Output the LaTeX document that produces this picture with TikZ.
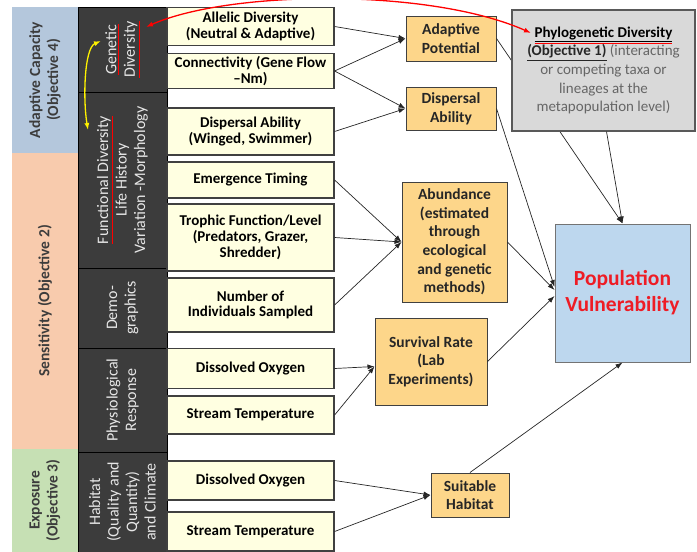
\documentclass[tikz,border=0pt]{standalone}
\usepackage{fontspec}
\setmainfont{Carlito}
\usetikzlibrary{arrows.meta}
\definecolor{capblue}{HTML}{B4C7DC}
\definecolor{senspeach}{HTML}{F8CBAD}
\definecolor{expgreen}{HTML}{C6E0B4}
\definecolor{darkcol}{HTML}{3C3C3C}
\definecolor{lighttext}{HTML}{E6E6E6}
\definecolor{lightyel}{HTML}{FFFFE1}
\definecolor{boxgray}{HTML}{404040}
\definecolor{orangebox}{HTML}{FDD68A}
\definecolor{phylogray}{HTML}{D9D9D9}
\definecolor{vulnblue}{HTML}{BDD7EE}
\definecolor{vulnred}{HTML}{EE1C25}
\newcommand{\redul}[2][black]{{\color{red}\underline{\color{#1}#2}}}

\begin{document}
\begin{tikzpicture}
      [x = 1pt, y = -1pt, line width = .7pt,
       colbox/.style = {rotate = 90, minimum height = 66pt, inner sep = 0pt,
         align = center, text = darkcol, font = \bfseries\fontsize{15.5}{18}\selectfont},
       darkbox/.style = {rotate = 90, draw = black, fill = darkcol, line width = 1pt,
         minimum height = 89pt, inner sep = 0pt, align = center, text = lighttext,
         font = \fontsize{16}{18.5}\selectfont},
       ybox/.style = {draw = boxgray, fill = lightyel, line width = 1.2pt,
         minimum width = 167pt, inner sep = 0pt, align = center,
         font = \bfseries\fontsize{15}{15.8}\selectfont},
       obox/.style = {draw = boxgray, fill = orangebox, line width = 1pt,
         inner sep = 0pt, align = center, text = black!85,
         font = \bfseries\fontsize{15.5}{18.6}\selectfont},
       link/.style = {-{Latex[length = 7pt, width = 5pt]}, black!85}]
      \useasboundingbox (0,0) rectangle (697,552);
      % objectives column
      \node[colbox, fill = capblue, minimum width = 146pt] (adapt) at (45,80)
        {Adaptive Capacity\\(Objective 4)};
      \node[colbox, fill = senspeach, minimum width = 296pt] (sens) at (45,301)
        {Sensitivity (Objective 2)};
      \node[colbox, fill = expgreen, minimum width = 103pt] (expo) at (45,500.5)
        {Exposure\\(Objective 3)};
      % attribute column
      \node[darkbox, minimum width = 85pt] (genetic) at (122.5,49.5)
        {\redul[lighttext]{Genetic}\\\redul[lighttext]{Diversity}};
      \node[darkbox, minimum width = 176pt] (functional) at (122.5,180)
        {\redul[lighttext]{Functional Diversity}\\Life History\\Variation -Morphology};
      \node[darkbox, minimum width = 80pt] (demo) at (122.5,308)
        {Demo-\\graphics};
      \node[darkbox, minimum width = 104pt] (physio) at (122.5,400)
        {Physiological\\Response};
      \node[darkbox, minimum width = 100pt] (habitat) at (122.5,502)
        {Habitat\\(Quality and\\Quantity)\\and Climate};
      % measured variables
      \foreach \n/\y/\h/\t in {allelic/26.5/38/{Allelic Diversity\\(Neutral \& Adaptive)},
          conn/71/35/{Connectivity (Gene Flow\\--Nm)},
          disp/131.5/47/{Dispersal Ability\\(Winged, Swimmer)},
          emerg/180/36/{Emergence Timing},
          trophic/237.5/67/{Trophic Function/Level\\(Predators, Grazer,\\Shredder)},
          number/305/54/{Number of\\Individuals Sampled},
          oxyA/368.5/40/{Dissolved Oxygen},
          tempA/415/38/{Stream Temperature},
          oxyB/480.5/39/{Dissolved Oxygen},
          tempB/531.5/39/{Stream Temperature}}
        \node[ybox, minimum height = \h pt] (\n) at (250.5,\y) {\t};
      % derived quantities
      \node[obox, minimum width = 90pt, minimum height = 45pt] (potential) at (451,38.5)
        {Adaptive\\Potential};
      \node[obox, minimum width = 90pt, minimum height = 43pt] (dispab) at (451,108.5)
        {Dispersal\\Ability};
      \node[obox, minimum width = 105pt, minimum height = 120pt] (abund) at (454.5,242)
        {Abundance\\(estimated\\through\\ecological\\and genetic\\methods)};
      \node[obox, minimum width = 112pt, minimum height = 87pt] (surv) at (431,361.5)
        {Survival Rate\\(Lab\\Experiments)};
      \node[obox, minimum width = 78pt, minimum height = 44pt] (suit) at (470,495)
        {Suitable\\Habitat};
      \node[draw = black!55, fill = vulnblue, line width = 1pt, minimum width = 135pt,
        minimum height = 138pt, align = center, text = vulnred,
        font = \bfseries\fontsize{21.5}{26}\selectfont] (vuln) at (622.5,293)
        {Population\\Vulnerability};
      \draw[link] (potential.east) -- (vuln.north);
      \node[draw = black!65, fill = phylogray, line width = 1.2pt, minimum width = 183pt,
        minimum height = 121pt, align = center, text = black!60,
        font = \fontsize{15}{18.6}\selectfont] (phylo) at (603.5,70.5)
        {{\bfseries\color{black!85}\redul{\underline{Phylogenetic Diversity}}}\\
         {\bfseries\color{black!85}\underline{(Objective 1)}} (interacting\\
         or competing taxa or\\lineages at the\\metapopulation level)};
      % connectors
      \draw[link] (allelic.east) -- (potential.west);
      \draw[link] (conn.east) -- (potential.west);
      \draw[link] (conn.east) -- (dispab.west);
      \draw[link] (disp.east) -- (dispab.west);
      \foreach \s in {emerg, trophic, number}
        \draw[link] (\s.east) -- (abund.west);
      \foreach \s in {oxyA, tempA}
        \draw[link] (\s.east) -- ([yshift = -5pt]surv.west);
      \foreach \s in {oxyB, tempB}
        \draw[link] (\s.east) -- (suit.west);
      \draw[link] (dispab.east) -- ([yshift = 6pt]vuln.west);
      \draw[link] (abund.east) -- ([yshift = 3pt]vuln.west);
      \draw[link] (surv.east) -- ([yshift = -3pt]vuln.west);
      \draw[link] (suit.north) -- (vuln.south);
      \draw[link] ([xshift = 3pt]phylo.south) -- (vuln.north);
      % genetic links
      \coordinate (genred) at (146,27);
      \coordinate (phylored) at (531,33);
      \coordinate (genyel) at (101,41);
      \coordinate (funyel) at (88,130);
      \draw[red, line width = 1.3pt, {Latex[length = 7pt, width = 5pt]}-{Latex[length = 7pt, width = 5pt]}]
        (genred) .. controls (230,-10) and (430,-12) .. (phylored);
      \draw[yellow, line width = 1.3pt, {Latex[length = 7pt, width = 5pt]}-{Latex[length = 7pt, width = 5pt]}]
        (genyel) .. controls (84,48) and (83,100) .. (funyel);
      \end{tikzpicture}
\end{document}
